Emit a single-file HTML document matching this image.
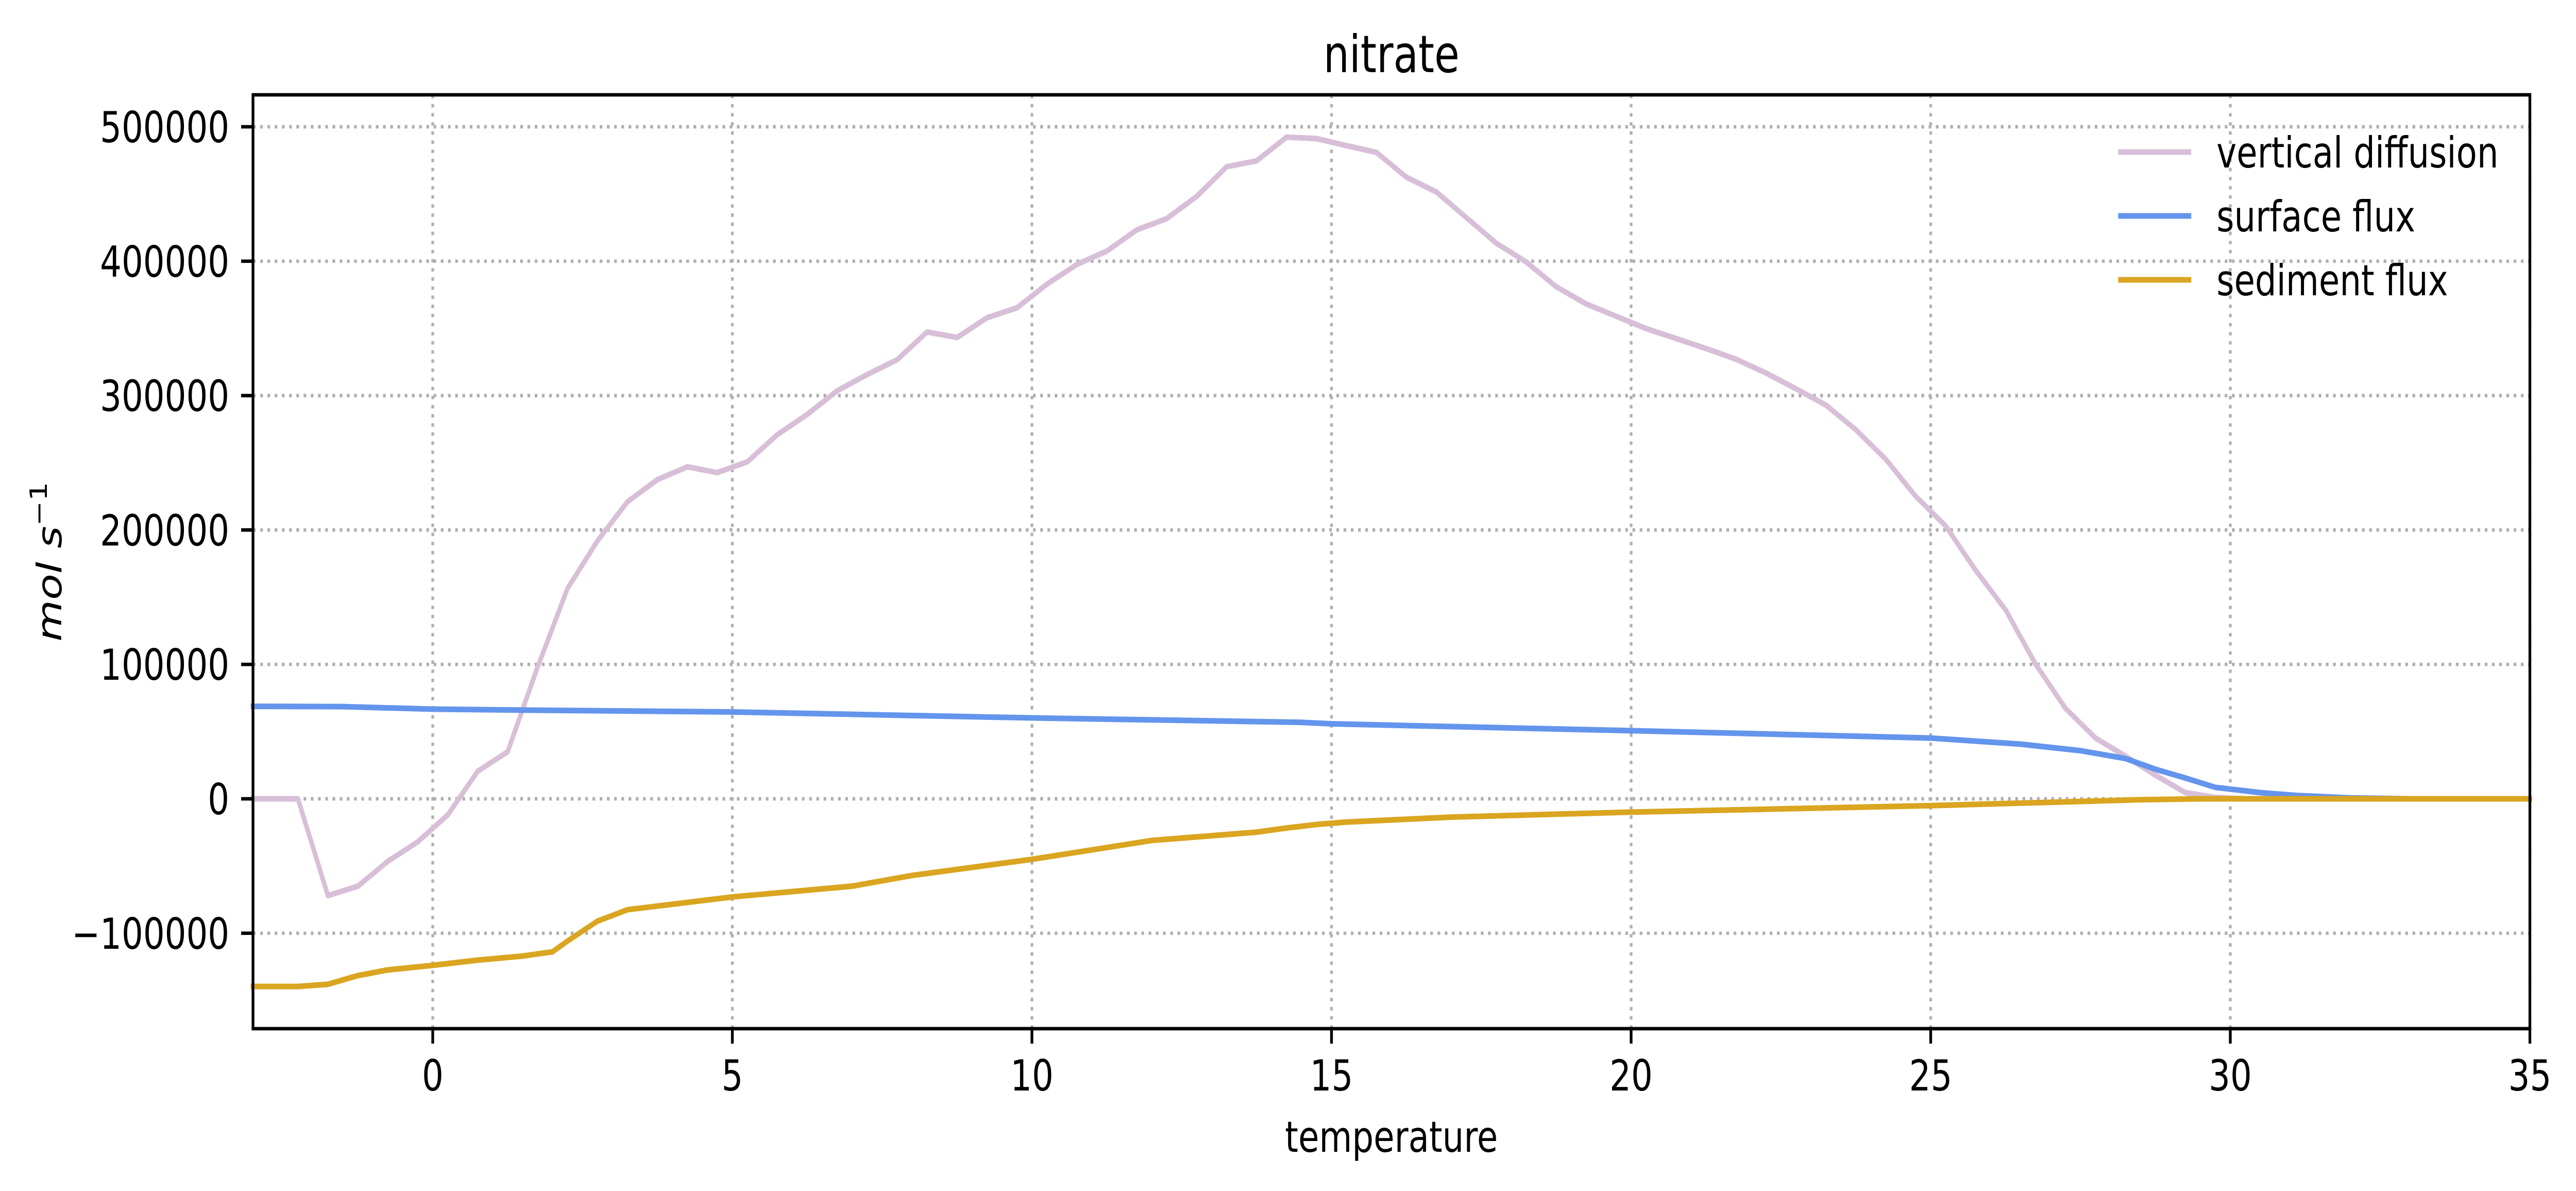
<!DOCTYPE html>
<html><head><meta charset="utf-8"><style>
html,body{margin:0;padding:0;background:#fff;width:100%;height:100%;overflow:hidden;}
svg{display:block;position:absolute;left:0;top:0;width:100vw;height:100vh;font-family:"DejaVu Sans","Liberation Sans",sans-serif;}
</style></head><body>
<svg id="chart" viewBox="0 0 6313 2311" preserveAspectRatio="none" xmlns="http://www.w3.org/2000/svg">
<rect width="6313" height="2311" fill="#fff"/>
<g id="grid"></g>
<g id="series"></g>
<rect x="620" y="184" width="5580" height="1812" fill="none" stroke="#000" stroke-width="6.7"/>
<g id="ticks"></g>
<text x="3410" y="140" font-size="100" text-anchor="middle">nitrate</text>
<text x="3410" y="2235" font-size="83" text-anchor="middle">temperature</text>
<text transform="translate(150,1090) rotate(-90)" font-size="83" text-anchor="middle" font-style="italic">mol s<tspan dy="-35" font-size="58" font-style="normal">−1</tspan></text>
<g id="legend"></g>
</svg>
<script>
const xTicks = [0,5,10,15,20,25,30,35];
const yTicks = [-100000,0,100000,200000,300000,400000,500000];
const yTickLabels = ["−100000","0","100000","200000","300000","400000","500000"];
const seriesNames = ["vertical diffusion","surface flux","sediment flux"];
const seriesColors = ["#d8bfd8","#6495ed","#daa520"];
const vdT = [-3,-2.25,-1.75,-1.25,-0.75,-0.25,0.25,0.75,1.25,1.75,2.25,2.75,3.25,3.75,4.25,4.75,5.25,5.75,6.25,6.75,7.25,7.75,8.25,8.75,9.25,9.75,10.25,10.75,11.25,11.75,12.25,12.75,13.25,13.75,14.25,14.75,15.25,15.75,16.25,16.75,17.25,17.75,18.25,18.75,19.25,19.75,20.25,20.75,21.25,21.75,22.25,22.75,23.25,23.75,24.25,24.75,25.25,25.75,26.25,26.75,27.25,27.75,28.25,28.75,29.25,29.75,30.25,35];
const vdV = [0,0,-72000,-65000,-46500,-32000,-12000,20500,35000,98000,156500,192000,221000,237500,247000,242700,250700,270900,286000,303600,315700,326700,347300,343200,357900,365300,382900,397600,407500,423300,431700,448200,470300,474700,492300,491200,486000,480900,462500,451500,432400,413400,399400,381000,368200,359000,349900,342500,335000,327100,316800,305100,293000,274600,252600,225000,203000,170000,140600,100200,67200,45200,31800,17600,4600,1000,0,0];
const sfT = [-3,-1.5,0,1.5,5,10,14.5,15,20,25,26.5,27.5,28.25,28.75,29.25,29.75,30.5,31.1,32,33,35];
const sfV = [68800,68600,66700,66000,64600,60200,56900,55800,50700,45200,40700,35800,30000,22000,15500,8500,4600,2500,700,0,0];
const sdT = [-3,-2.25,-1.75,-1.25,-0.75,0,0.75,1.5,2,2.25,2.75,3.25,3.75,5,7,8,10,12,13.75,14.25,14.75,15.25,17,20,25,28.5,29.5,35];
const sdV = [-139600,-139600,-138000,-131500,-127300,-123900,-120000,-117000,-113800,-105800,-91000,-82500,-79800,-73000,-65000,-57000,-45000,-31000,-24800,-21700,-19100,-17300,-13600,-9900,-5100,-700,0,0];

const X0=620,X1=6200,Y0=184,Y1=1996, XMIN=-3,XMAX=35, YZERO=1550, YPX=0.002608;
function xs(t){return X0+(t-XMIN)*(X1-X0)/(XMAX-XMIN);}
function ys(v){return YZERO-v*YPX;}
const NS="http://www.w3.org/2000/svg";
function mk(tag,attrs,parent){const e=document.createElementNS(NS,tag);for(const k in attrs)e.setAttribute(k,attrs[k]);parent.appendChild(e);return e;}
const grid=document.getElementById('grid'), ticks=document.getElementById('ticks'), series=document.getElementById('series'), legend=document.getElementById('legend');
xTicks.forEach(t=>{
  const g=mk('line',{x1:xs(t),x2:xs(t),y1:Y0,y2:Y1,stroke:'#b0b0b0','stroke-width':6.7,'stroke-dasharray':'6.7 11'},grid);
  
  
  const tk=mk('line',{x1:xs(t),x2:xs(t),y1:Y1,y2:Y1+29,stroke:'#000','stroke-width':6.7},ticks);
  
  
  const lb=mk('text',{x:xs(t),y:Y1+120,'font-size':83,'text-anchor':'middle'},ticks);
  lb.textContent=String(t);
  
  
});
yTicks.forEach((v,i)=>{
  const g=mk('line',{x1:X0,x2:X1,y1:ys(v),y2:ys(v),stroke:'#b0b0b0','stroke-width':6.7,'stroke-dasharray':'6.7 11'},grid);
  
  
  const tk=mk('line',{x1:X0-29,x2:X0,y1:ys(v),y2:ys(v),stroke:'#000','stroke-width':6.7},ticks);
  
  
  const lb=mk('text',{x:X0-58,y:ys(v)+30,'font-size':83,'text-anchor':'end'},ticks);
  lb.textContent=yTickLabels[i];
  
  
});
const data=[[vdT,vdV],[sfT,sfV],[sdT,sdV]];
const snames=['vertical-diffusion-line','surface-flux-line','sediment-flux-line'];
data.forEach((d,i)=>{
  const pts=d[0].map((t,j)=>xs(t).toFixed(1)+','+ys(d[1][j]).toFixed(1)).join(' ');
  const p=mk('polyline',{points:pts,fill:'none',stroke:seriesColors[i],'stroke-width':11,'stroke-linejoin':'round','stroke-linecap':'square'},series);
  
  
  const ly=295+i*124;
  const ll=mk('line',{x1:5191,x2:5370,y1:ly,y2:ly,stroke:seriesColors[i],'stroke-width':11},legend);
  
  
  const lt=mk('text',{x:5432,y:ly+30,'font-size':83},legend);
  lt.textContent=seriesNames[i];
  
  
});
</script>
</body></html>
